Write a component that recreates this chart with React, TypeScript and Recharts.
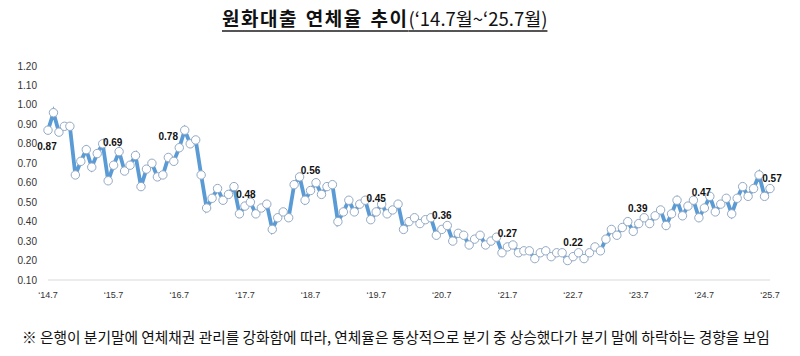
import { LineChart, Line, XAxis, YAxis } from 'recharts';

// 원화대출 연체율 (%), 2014.7 ~ 2025.7, 월말 기준
const rates = [
  0.87, 0.96, 0.86, 0.89, 0.89, 0.64, 0.71, 0.77, 0.68, 0.75, 0.8, 0.61,
  0.69, 0.76, 0.66, 0.69, 0.74, 0.58, 0.67, 0.7, 0.63, 0.64, 0.73, 0.71,
  0.78, 0.87, 0.8, 0.82, 0.64, 0.47, 0.52, 0.57, 0.51, 0.54, 0.58, 0.44,
  0.48, 0.5, 0.44, 0.47, 0.49, 0.36, 0.42, 0.45, 0.42, 0.59, 0.63, 0.51,
  0.56, 0.6, 0.54, 0.58, 0.59, 0.4, 0.45, 0.51, 0.45, 0.49, 0.51, 0.41,
  0.45, 0.49, 0.44, 0.46, 0.49, 0.36, 0.4, 0.42, 0.39, 0.41, 0.42, 0.33,
  0.36, 0.38, 0.3, 0.34, 0.33, 0.28, 0.31, 0.33, 0.28, 0.3, 0.32, 0.24,
  0.27, 0.28, 0.24, 0.25, 0.25, 0.21, 0.24, 0.25, 0.22, 0.24, 0.24, 0.2,
  0.22, 0.24, 0.21, 0.24, 0.27, 0.25, 0.31, 0.36, 0.33, 0.37, 0.4, 0.35,
  0.39, 0.42, 0.39, 0.43, 0.46, 0.38, 0.44, 0.51, 0.43, 0.48, 0.51, 0.42,
  0.47, 0.53, 0.45, 0.49, 0.52, 0.44, 0.52, 0.58, 0.53, 0.57, 0.64, 0.53,
  0.57,
];

const yTicks = [0.1, 0.2, 0.3, 0.4, 0.5, 0.6, 0.7, 0.8, 0.9, 1.0, 1.1, 1.2];

const xTickMonths = [
  '14.7', '15.7', '16.7', '17.7', '18.7', '19.7',
  '20.7', '21.7', '22.7', '23.7', '24.7', '25.7',
];

// month labels: 14.7, 14.8, ... 25.7
const months: string[] = rates.map((_, k) => {
  const m = 6 + k;
  return `${14 + Math.floor(m / 12)}.${(m % 12) + 1}`;
});

const data = months.map((month, i) => ({ month, rate: rates[i] }));

// label nudges (dx, dy) so they sit like the original
const LABEL_NUDGE: Record<number, [number, number]> = {
  0: [-1, 17],
  12: [-1, -22],
  24: [-11, -10],
  36: [1, -11],
  48: [0, -19],
  108: [-1, -14],
  120: [-3, -15],
  132: [2, -9],
};

const renderLabel = (props: any) => {
  const { x, y, value, index } = props;
  if (index % 12 !== 0) return null;
  const [dx, dy] = LABEL_NUDGE[index] ?? [0, -13];
  return (
    <text
      key={`lbl-${index}`}
      x={x + dx}
      y={y + dy}
      textAnchor="middle"
      dominantBaseline="middle"
      fontSize={10}
      fontWeight={700}
      fontFamily="Liberation Sans, Arial, sans-serif"
      fill="#111"
    >
      {Number(value).toFixed(2)}
    </text>
  );
};

export default function App() {
  return (
    <div
      style={{
        position: 'absolute',
        left: 0,
        top: 0,
        width: 800,
        height: 356,
        background: '#fff',
        overflow: 'hidden',
      }}
    >
      {/* 제목 */}
      <div
        style={{
          position: 'absolute',
          left: 222,
          top: 6,
          whiteSpace: 'nowrap',
          fontFamily: '"Noto Sans CJK KR", sans-serif',
          color: '#111',
          textDecoration: 'underline',
          textDecorationThickness: 2,
          textUnderlineOffset: 4,
          textDecorationColor: '#555',
          lineHeight: '24px',
        }}
      >
        <span style={{ fontSize: 19, fontWeight: 700, letterSpacing: 1.5, wordSpacing: 2 }}>
          원화대출 연체율 추이
        </span>
        <span style={{ fontSize: 18.5, fontWeight: 400 }}>(‘14.7월~‘25.7월)</span>
      </div>

      <div style={{ position: 'absolute', left: 0, top: 0 }}>
        <LineChart
          width={800}
          height={310}
          data={data}
          margin={{ top: 66, right: 30, bottom: 10, left: 0 }}
        >
          <XAxis
            dataKey="month"
            ticks={xTickMonths}
            interval={0}
            tickFormatter={(v) => `‘${v}`}
            axisLine={{ stroke: '#D9D9D9' }}
            tickLine={false}
            height={20}
            tickMargin={6}
            tick={{ fontSize: 9, fill: '#333', fontFamily: 'Liberation Sans, Arial, sans-serif' }}
          />
          <YAxis
            domain={[0.1, 1.2]}
            ticks={yTicks}
            tickFormatter={(v) => Number(v).toFixed(2)}
            axisLine={false}
            tickLine={false}
            width={48}
            tickMargin={5}
            tick={{ fontSize: 10, fill: '#333', fontFamily: 'Liberation Sans, Arial, sans-serif' }}
          />
          <Line
            type="linear"
            dataKey="rate"
            stroke="#5B9BD5"
            strokeWidth={3.8}
            dot={{ r: 4.2, fill: '#fff', stroke: '#93A9C4', strokeWidth: 1 }}
            label={renderLabel}
            isAnimationActive={false}
          />
        </LineChart>
      </div>

      {/* 주석 */}
      <div
        style={{
          position: 'absolute',
          left: 22,
          top: 328,
          whiteSpace: 'nowrap',
          fontFamily: '"Noto Sans CJK KR", sans-serif',
          fontSize: 15,
          lineHeight: '18px',
          color: '#111',
          transform: 'scaleX(0.98)',
          transformOrigin: 'left center',
        }}
      >
        ※ 은행이 분기말에 연체채권 관리를 강화함에 따라, 연체율은 통상적으로 분기 중 상승했다가 분기 말에 하락하는 경향을 보임
      </div>
    </div>
  );
}
